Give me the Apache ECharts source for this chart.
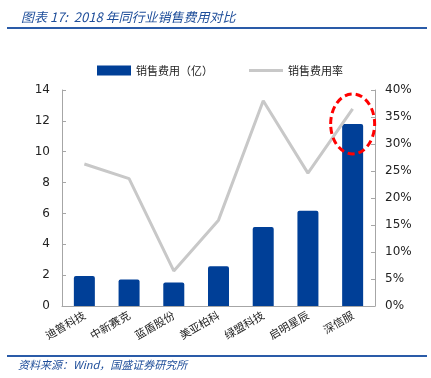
<!DOCTYPE html>
<html>
<head>
<meta charset="utf-8">
<script src="https://cdn.jsdelivr.net/npm/echarts@6/dist/echarts.min.js"></script>
<style>
  html, body { margin: 0; padding: 0; background: #fff; }
  #chart { width: 431px; height: 378px; }
</style>
</head>
<body>
<div id="chart"></div>
<script>
const companies = ['迪普科技', '中新赛克', '蓝盾股份', '美亚柏科', '绿盟科技', '启明星辰', '深信服']
const salesCost = [1.94, 1.72, 1.53, 2.58, 5.12, 6.17, 11.8]
const salesRate = [26.3, 23.6, 6.5, 15.9, 38.0, 24.6, 36.5]

const chart = echarts.init(document.getElementById('chart'))
const blue = '#003f97'
const grey = '#c8c8c8'
const axisColor = '#a6a6a6'
const cjk = '"Noto Sans CJK SC", sans-serif'
const num = '"DejaVu Sans", sans-serif'

const frame = [
  { type: 'rect', shape: { x: 7, y: 27, width: 420, height: 2 }, style: { fill: '#2a5ba8' } },
  { type: 'rect', shape: { x: 7, y: 355, width: 420, height: 2 }, style: { fill: '#2a5ba8' } },
  {
    type: 'text', left: 18, top: 359,
    style: { text: '资料来源：Wind，国盛证券研究所', fill: '#1f4e9a', fontSize: 11, fontStyle: 'italic', fontFamily: cjk }
  }
]

const option = {
  animation: false,
  title: {
    text: '图表 17:  2018 年同行业销售费用对比',
    left: 16,
    top: 6,
    textStyle: { color: '#1f4e9a', fontSize: 13, fontStyle: 'italic', fontWeight: 'normal', fontFamily: cjk }
  },
  legend: {
    top: 60,
    left: 92,
    itemGap: 36,
    itemWidth: 34,
    itemHeight: 10,
    textStyle: { color: '#222', fontSize: 11, fontFamily: cjk },
    data: [
      { name: '销售费用（亿）', icon: 'rect' },
      { name: '销售费用率', icon: 'path://M0,0 L34,0 L34,3 L0,3 Z' }
    ]
  },
  grid: { left: 62, right: 56, top: 90, bottom: 72 },
  xAxis: {
    type: 'category',
    data: companies,
    axisLine: { lineStyle: { color: axisColor } },
    axisTick: { inside: true, length: 4, lineStyle: { color: axisColor } },
    axisLabel: { rotate: 30, color: '#222', fontSize: 11, fontFamily: cjk, margin: 8 }
  },
  yAxis: [
    {
      type: 'value',
      min: 0, max: 14, interval: 2,
      axisLine: { show: true, lineStyle: { color: axisColor } },
      axisTick: { show: true, inside: true, length: 4, lineStyle: { color: axisColor } },
      splitLine: { show: false },
      axisLabel: { color: '#222', fontSize: 12, fontFamily: num, margin: 12 }
    },
    {
      type: 'value',
      min: 0, max: 40, interval: 5,
      axisLine: { show: true, lineStyle: { color: axisColor } },
      axisTick: { show: true, inside: true, length: 4, lineStyle: { color: axisColor } },
      splitLine: { show: false },
      axisLabel: { color: '#222', fontSize: 12, fontFamily: num, margin: 10, formatter: '{value}%' }
    }
  ],
  series: [
    {
      name: '销售费用（亿）',
      type: 'bar',
      data: salesCost,
      barWidth: 21,
      itemStyle: { color: blue, borderRadius: [2, 2, 0, 0] }
    },
    {
      name: '销售费用率',
      type: 'line',
      yAxisIndex: 1,
      data: salesRate,
      symbol: 'none',
      lineStyle: { color: grey, width: 3 },
      itemStyle: { color: grey }
    }
  ],
  graphic: frame
}
chart.setOption(option)

// red dashed ellipse around the last company's bar top
const c = chart.convertToPixel({ xAxisIndex: 0, yAxisIndex: 0 }, [companies.length - 1, salesCost[salesCost.length - 1]])
chart.setOption({
  graphic: frame.concat([{
    type: 'ellipse', z: 100,
    shape: { cx: c[0], cy: c[1], rx: 22, ry: 30 },
    style: { fill: 'none', stroke: '#f00', lineWidth: 3, lineDash: [7, 4] }
  }])
})
</script>
</body>
</html>
